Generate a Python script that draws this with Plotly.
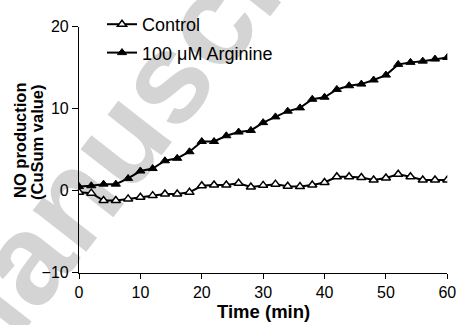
import plotly.graph_objects as go

time_min = list(range(0, 61, 2))
control = [-0.2, -0.3, -1.2, -1.2, -1.0, -0.8, -0.6, -0.4, -0.4, -0.2,
           0.6, 0.7, 0.7, 0.9, 0.45, 0.65, 0.8, 0.55, 0.5, 0.7,
           1.0, 1.7, 1.7, 1.6, 1.3, 1.55, 2.0, 1.7, 1.3, 1.3, 1.3]
arginine = [0.5, 0.6, 0.8, 0.8, 1.5, 2.4, 2.7, 3.65, 3.95, 4.75,
            6.0, 6.0, 6.7, 7.15, 7.35, 8.3, 9.0, 9.7, 10.1, 11.15,
            11.4, 12.35, 12.8, 13.0, 13.5, 14.1, 15.4, 15.65, 15.8, 16.05, 16.25]
x_ticks = [0, 10, 20, 30, 40, 50, 60]
y_ticks = [-10, 0, 10, 20]

W, H = 460, 325
FONT = "Liberation Sans, Arial, sans-serif"


def px(x):
    return x / W


def py(y):
    return 1 - y / H


fig = go.Figure()
fig.add_trace(go.Scatter(
    x=time_min, y=control, mode="lines+markers", name="Control",
    legendgroup="a",
    line=dict(color="black", width=2),
    marker=dict(symbol="triangle-up", size=8, color="white",
                line=dict(color="black", width=1.5)),
))
fig.add_trace(go.Scatter(
    x=time_min, y=arginine, mode="lines+markers", name="100 \u03bcM Arginine",
    legendgroup="b",
    line=dict(color="black", width=2),
    marker=dict(symbol="triangle-up", size=8, color="black",
                line=dict(color="black", width=1)),
))

fig.update_layout(
    width=W, height=H,
    margin=dict(l=0, r=0, t=0, b=0),
    paper_bgcolor="white", plot_bgcolor="rgba(0,0,0,0)",
    font=dict(family=FONT, color="black", size=15),
    showlegend=True,
    legend=dict(x=px(102), y=py(6), xanchor="left", yanchor="top",
                bgcolor="rgba(0,0,0,0)", font=dict(size=18),
                tracegroupgap=2),
    xaxis=dict(domain=[px(79), px(447.3)], range=[0, 60], tickvals=x_ticks,
               showgrid=False, zeroline=False, automargin=False,
               showline=True, linecolor="black", linewidth=1.2,
               ticks="outside", ticklen=5, tickwidth=1.2, tickcolor="black",
               tickfont=dict(size=16)),
    yaxis=dict(domain=[py(272.7), py(26.7)], range=[-10, 20], tickvals=y_ticks,
               showgrid=False, zeroline=False, automargin=False,
               showline=True, linecolor="black", linewidth=1.2,
               ticks="outside", ticklen=6, tickwidth=1.2, tickcolor="black",
               tickfont=dict(size=16)),
    shapes=[dict(type="rect", xref="paper", yref="paper",
                 x0=px(137) - 0.01, x1=px(137) + 0.01,
                 y0=py(95) - 0.01, y1=py(95) + 0.01,
                 line=dict(width=0), fillcolor="rgba(0,0,0,0)", layer="below",
                 label=dict(text="<b>Manuscript</b>", textangle=-52,
                            textposition="middle center",
                            font=dict(size=128, color="#d4d4d4", family=FONT)))],
    annotations=[
        dict(text="<b>NO production</b>", xref="paper", yref="paper",
             x=px(20), y=py(141), textangle=-90,
             showarrow=False, font=dict(size=16.5), xanchor="center", yanchor="middle"),
        dict(text="<b>(CuSum value)</b>", xref="paper", yref="paper",
             x=px(37), y=py(142), textangle=-90,
             showarrow=False, font=dict(size=16.5), xanchor="center", yanchor="middle"),
        dict(text="<b>Time (min)</b>", xref="paper", yref="paper",
             x=px(263), y=py(311), xanchor="center", yanchor="middle",
             showarrow=False, font=dict(size=18.5)),
        dict(text="<b>1D</b>", xref="paper", yref="paper",
             x=px(42), y=py(3), xanchor="left", yanchor="bottom",
             showarrow=False, font=dict(size=22)),
    ],
)

fig.write_html("out.html")
